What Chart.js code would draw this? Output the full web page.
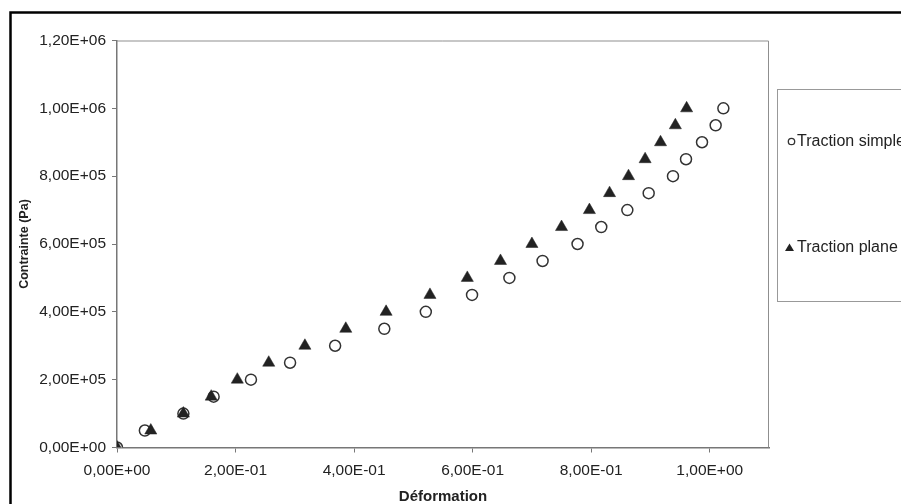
<!DOCTYPE html>
<html>
<head>
<meta charset="utf-8">
<script src="https://cdn.jsdelivr.net/npm/chart.js@4.4.1/dist/chart.umd.min.js"></script>
<style>
  html, body { margin: 0; padding: 0; background: #fff; overflow: hidden; }
  canvas { display: block; }
</style>
</head>
<body>
<canvas id="chart" width="901" height="504"></canvas>
<script>
// values
const stress = [0, 5e4, 1e5, 1.5e5, 2e5, 2.5e5, 3e5, 3.5e5, 4e5, 4.5e5, 5e5,
  5.5e5, 6e5, 6.5e5, 7e5, 7.5e5, 8e5, 8.5e5, 9e5, 9.5e5, 1e6];
const strainSimple = [0, 0.047, 0.112, 0.163, 0.226, 0.292, 0.368, 0.451, 0.521, 0.599, 0.662,
  0.718, 0.777, 0.817, 0.861, 0.897, 0.938, 0.960, 0.987, 1.010, 1.023];
const strainPlane = [0, 0.057, 0.112, 0.159, 0.203, 0.256, 0.317, 0.386, 0.454, 0.528, 0.591,
  0.647, 0.700, 0.750, 0.797, 0.831, 0.863, 0.891, 0.917, 0.942, 0.961];
const seriesNames = ['Traction simple', 'Traction plane'];

const xTicks = [0, 0.2, 0.4, 0.6, 0.8, 1.0];
const xTickLabels = ['0,00E+00', '2,00E-01', '4,00E-01', '6,00E-01', '8,00E-01', '1,00E+00'];
const yTicks = [0, 2e5, 4e5, 6e5, 8e5, 1e6, 1.2e6];
const yTickLabels = ['0,00E+00', '2,00E+05', '4,00E+05', '6,00E+05', '8,00E+05', '1,00E+06', '1,20E+06'];

const FONT = "'Liberation Sans', Arial, sans-serif";
const INK = '#222';

function labelFor(values, labels, v) {
  const i = values.findIndex(t => Math.abs(t - v) < 1e-9);
  return i < 0 ? '' : labels[i];
}

// frame, plot border and the side legend box
const decor = {
  id: 'decor',
  beforeDraw(chart) {
    const ctx = chart.ctx;
    ctx.save();
    ctx.fillStyle = '#fff';
    ctx.fillRect(0, 0, chart.width, chart.height);
    ctx.restore();
  },
  beforeDatasetsDraw(chart) {
    const { ctx, chartArea: a } = chart;
    ctx.save();
    ctx.strokeStyle = '#8f8f8f';
    ctx.lineWidth = 1;
    ctx.beginPath();
    ctx.moveTo(a.left, a.top + 0.5);
    ctx.lineTo(a.right - 0.5, a.top + 0.5);
    ctx.lineTo(a.right - 0.5, a.bottom);
    ctx.stroke();
    ctx.restore();
  },
  afterDraw(chart) {
    const ctx = chart.ctx;
    ctx.save();
    // outer black frame (cut by the picture edges)
    ctx.strokeStyle = '#000';
    ctx.lineWidth = 2.5;
    ctx.beginPath();
    ctx.moveTo(10.5, chart.height + 5);
    ctx.lineTo(10.5, 12.5);
    ctx.lineTo(chart.width + 5, 12.5);
    ctx.stroke();

    // legend box
    ctx.strokeStyle = '#999';
    ctx.lineWidth = 1;
    ctx.strokeRect(777.5, 89.5, 200, 212);

    const rows = [141.5, 248];
    chart.data.datasets.forEach((ds, i) => {
      const y = rows[i];
      ctx.lineWidth = 1.3;
      if (ds.pointStyle === 'circle') {
        ctx.strokeStyle = '#333';
        ctx.fillStyle = '#fff';
        ctx.beginPath();
        ctx.arc(791.5, y, 3.2, 0, Math.PI * 2);
        ctx.fill();
        ctx.stroke();
      } else {
        ctx.fillStyle = '#222';
        ctx.beginPath();
        ctx.moveTo(789.5, y - 4.5);
        ctx.lineTo(794, y + 3);
        ctx.lineTo(785, y + 3);
        ctx.closePath();
        ctx.fill();
      }
      ctx.fillStyle = INK;
      ctx.font = '16px ' + FONT;
      ctx.textBaseline = 'middle';
      ctx.textAlign = 'left';
      ctx.fillText(ds.label, 797, y);
    });
    ctx.restore();
  }
};

new Chart(document.getElementById('chart'), {
  type: 'scatter',
  data: {
    datasets: [
      {
        label: seriesNames[0],
        data: strainSimple.map((x, i) => ({ x, y: stress[i] })),
        pointStyle: 'circle',
        pointRadius: 5.5,
        pointBackgroundColor: '#fff',
        pointBorderColor: '#333',
        pointBorderWidth: 1.5,
        order: 1
      },
      {
        label: seriesNames[1],
        data: strainPlane.map((x, i) => ({ x, y: stress[i] })),
        pointStyle: 'triangle',
        pointRadius: 7,
        pointBackgroundColor: '#222',
        pointBorderColor: '#222',
        pointBorderWidth: 0.5,
        order: 0
      }
    ]
  },
  options: {
    responsive: false,
    animation: false,
    devicePixelRatio: 1,
    layout: { padding: { left: 0, right: 132, top: 40.5, bottom: 0 } },
    plugins: {
      legend: { display: false },
      tooltip: { enabled: false }
    },
    scales: {
      x: {
        type: 'linear',
        min: 0,
        max: 1.1,
        afterBuildTicks: s => { s.ticks = xTicks.map(value => ({ value })); },
        afterFit: s => { s.height = 56.5; },
        grid: { drawOnChartArea: false, drawTicks: true, tickLength: 5, color: '#777' },
        border: { color: '#777', width: 1.5 },
        ticks: {
          padding: 9,
          color: INK,
          font: { family: FONT, size: 15.5 },
          maxRotation: 0,
          callback: v => labelFor(xTicks, xTickLabels, v)
        },
        title: {
          display: true,
          text: 'Déformation',
          color: INK,
          padding: { top: 0, bottom: 0 },
          font: { family: FONT, size: 15, weight: 'bold', lineHeight: 1 }
        }
      },
      y: {
        type: 'linear',
        min: 0,
        max: 1.2e6,
        afterBuildTicks: s => { s.ticks = yTicks.map(value => ({ value })); },
        afterFit: s => { s.width = 117; },
        grid: { drawOnChartArea: false, drawTicks: true, tickLength: 5, color: '#777' },
        border: { color: '#777', width: 1.5 },
        ticks: {
          padding: 6,
          color: INK,
          font: { family: FONT, size: 15.5 },
          callback: v => labelFor(yTicks, yTickLabels, v)
        },
        title: {
          display: true,
          text: 'Contrainte (Pa)',
          color: INK,
          padding: { top: 18, bottom: 0 },
          font: { family: FONT, size: 12.5, weight: 'bold', lineHeight: 1 }
        }
      }
    }
  },
  plugins: [decor]
});
</script>
</body>
</html>
